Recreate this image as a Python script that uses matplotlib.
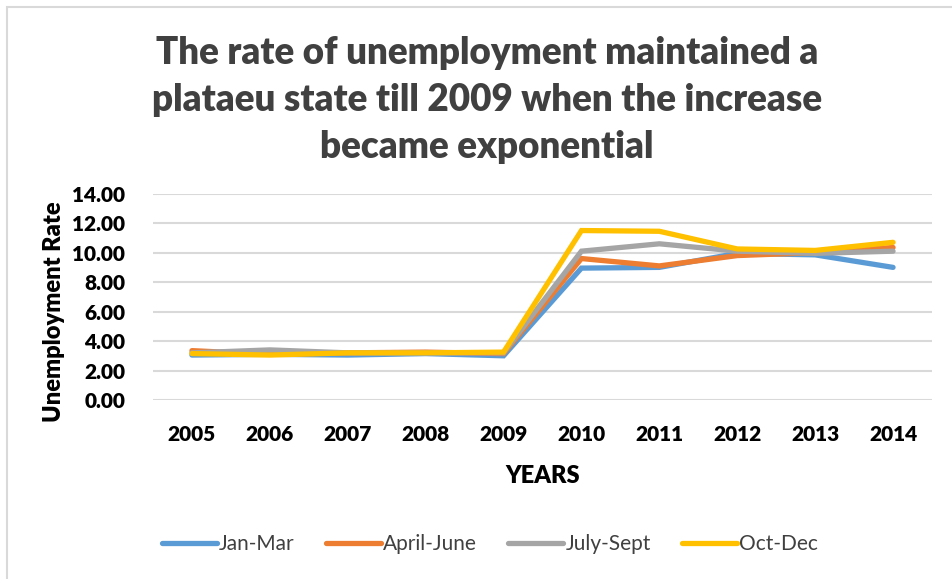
import matplotlib.pyplot as plt
from matplotlib.patches import Rectangle

years = ['2005', '2006', '2007', '2008', '2009', '2010', '2011', '2012', '2013', '2014']
jan_mar = [3.05, 3.10, 3.05, 3.15, 3.00, 8.95, 9.00, 9.95, 9.85, 9.00]
apr_jun = [3.35, 3.10, 3.20, 3.25, 3.15, 9.60, 9.10, 9.80, 10.00, 10.35]
jul_sep = [3.20, 3.40, 3.20, 3.20, 3.20, 10.10, 10.60, 10.10, 9.95, 10.10]
oct_dec = [3.15, 3.05, 3.20, 3.20, 3.25, 11.50, 11.45, 10.25, 10.15, 10.70]

series = [('Jan-Mar', jan_mar, '#5b9bd5'),
          ('April-June', apr_jun, '#ed7d31'),
          ('July-Sept', jul_sep, '#a5a5a5'),
          ('Oct-Dec', oct_dec, '#ffc000')]

plt.rcParams['font.family'] = ['Lato', 'DejaVu Sans']

fig = plt.figure(figsize=(9.53, 5.79), dpi=100)
ax = fig.add_axes([153 / 953, 1 - 400 / 579, 779 / 953, 206.3 / 579])

x = list(range(len(years)))
for name, vals, col in series:
    ax.plot(x, vals, color=col, lw=3.8, label=name, solid_capstyle='round',
            solid_joinstyle='miter')

ax.set_xlim(-0.5, len(years) - 0.5)
ax.set_ylim(0, 14)
ax.set_yticks(range(0, 15, 2))
ax.set_yticklabels(['{:.2f}'.format(v) for v in range(0, 15, 2)])
ax.set_xticks(x)
ax.set_xticklabels(years)
ax.tick_params(length=0, labelsize=15)
for lab in ax.get_xticklabels() + ax.get_yticklabels():
    lab.set_fontweight('heavy')
ax.tick_params(axis='x', pad=18)
ax.tick_params(axis='y', pad=20)

ax.grid(axis='y', color='#d9d9d9', lw=1.5)
ax.set_axisbelow(True)
for s in ax.spines.values():
    s.set_visible(False)

ax.set_xlabel('YEARS', fontsize=17, fontweight='heavy', labelpad=15)
ax.set_ylabel('Unemployment Rate', fontsize=17, fontweight='heavy')
ax.yaxis.set_label_coords(-0.113, 0.427)

fig.text(0.511, 1 - 100 / 579,
         'The rate of unemployment maintained a\nplataeu state till 2009 when the increase\nbecame exponential',
         ha='center', va='center', fontsize=26.5, fontweight='heavy',
         color='#404040', linespacing=1.45)

ax.legend(loc='center', bbox_to_anchor=(0.514, 1 - 544 / 579), bbox_transform=fig.transFigure,
          ncol=4, frameon=False, fontsize=15, handlelength=2.65,
          handletextpad=0.1, columnspacing=1.5, labelcolor='#404040')

fig.patches.append(Rectangle((7.5 / 953, -0.05), 1.0, 1.05 - 6.5 / 579,
                             transform=fig.transFigure, fill=False,
                             edgecolor='#d9d9d9', lw=1.5))

fig.savefig('out.png', dpi=100)
